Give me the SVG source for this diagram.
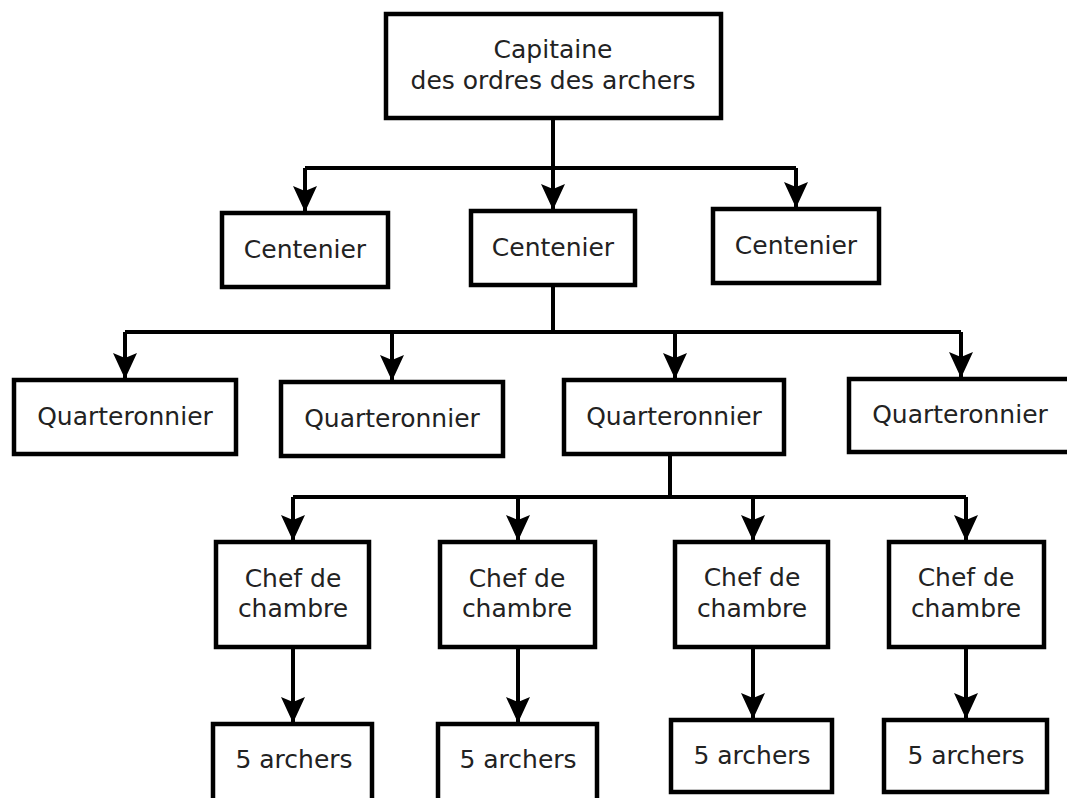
<svg xmlns="http://www.w3.org/2000/svg" width="1067" height="798" viewBox="0 0 1067 798">
<defs>
<style>
.box{fill:#fff;stroke:#000;stroke-width:4.5}
.lbl{font-family:"DejaVu Sans","Liberation Sans",sans-serif;font-size:25px;fill:#222;text-anchor:middle}
.con{fill:none;stroke:#000;stroke-width:4}
</style>
<marker id="arr" markerUnits="userSpaceOnUse" viewBox="0 0 26 24" refX="25" refY="12" markerWidth="26" markerHeight="24" orient="auto">
<path d="M0,0 L26,12 L0,24 L5,12 Z" fill="#000"/>
</marker>
</defs>
<rect width="1067" height="798" fill="#fff"/>
<g id="connectors">
<path class="con" d="M553,120 V168 M305,168 H796 M553,287 V332 M125,332 H961 M670,456 V497 M293,497 H966"/>
<path class="con" marker-end="url(#arr)" d="M305,168 V211"/>
<path class="con" marker-end="url(#arr)" d="M553,168 V209"/>
<path class="con" marker-end="url(#arr)" d="M796,168 V207"/>
<path class="con" marker-end="url(#arr)" d="M125,332 V378"/>
<path class="con" marker-end="url(#arr)" d="M392,332 V380"/>
<path class="con" marker-end="url(#arr)" d="M675,332 V378"/>
<path class="con" marker-end="url(#arr)" d="M961,332 V377"/>
<path class="con" marker-end="url(#arr)" d="M293,497 V540"/>
<path class="con" marker-end="url(#arr)" d="M518,497 V540"/>
<path class="con" marker-end="url(#arr)" d="M753,497 V540"/>
<path class="con" marker-end="url(#arr)" d="M966,497 V540"/>
<path class="con" marker-end="url(#arr)" d="M293,649 V722"/>
<path class="con" marker-end="url(#arr)" d="M518,649 V722"/>
<path class="con" marker-end="url(#arr)" d="M753,649 V718"/>
<path class="con" marker-end="url(#arr)" d="M966,649 V718"/>
</g>
<g id="capitaine"><rect class="box" x="386" y="14" width="335" height="104"/><text class="lbl" x="553" y="58">Capitaine</text><text class="lbl" x="553" y="89">des ordres des archers</text></g>
<g id="centenier1"><rect class="box" x="222" y="213" width="166" height="74"/><text class="lbl" x="305" y="258">Centenier</text></g>
<g id="centenier2"><rect class="box" x="471" y="211" width="164" height="74"/><text class="lbl" x="553" y="256">Centenier</text></g>
<g id="centenier3"><rect class="box" x="713" y="209" width="166" height="74"/><text class="lbl" x="796" y="254">Centenier</text></g>
<g id="quarteronnier1"><rect class="box" x="14" y="380" width="222" height="74"/><text class="lbl" x="125" y="425">Quarteronnier</text></g>
<g id="quarteronnier2"><rect class="box" x="281" y="382" width="222" height="74"/><text class="lbl" x="392" y="427">Quarteronnier</text></g>
<g id="quarteronnier3"><rect class="box" x="564" y="380" width="220" height="74"/><text class="lbl" x="674" y="425">Quarteronnier</text></g>
<g id="quarteronnier4"><rect class="box" x="849" y="379" width="230" height="73"/><text class="lbl" x="960" y="423">Quarteronnier</text></g>
<g id="chef1"><rect class="box" x="216" y="542" width="153" height="105"/><text class="lbl" x="293" y="587">Chef de</text><text class="lbl" x="293" y="617">chambre</text></g>
<g id="chef2"><rect class="box" x="440" y="542" width="155" height="105"/><text class="lbl" x="517" y="587">Chef de</text><text class="lbl" x="517" y="617">chambre</text></g>
<g id="chef3"><rect class="box" x="675" y="542" width="153" height="105"/><text class="lbl" x="752" y="586">Chef de</text><text class="lbl" x="752" y="617">chambre</text></g>
<g id="chef4"><rect class="box" x="889" y="542" width="155" height="105"/><text class="lbl" x="966" y="586">Chef de</text><text class="lbl" x="966" y="617">chambre</text></g>
<g id="archers1"><rect class="box" x="213" y="724" width="159" height="80"/><text class="lbl" x="294" y="768">5 archers</text></g>
<g id="archers2"><rect class="box" x="438" y="724" width="159" height="80"/><text class="lbl" x="518" y="768">5 archers</text></g>
<g id="archers3"><rect class="box" x="671" y="720" width="161" height="72"/><text class="lbl" x="752" y="764">5 archers</text></g>
<g id="archers4"><rect class="box" x="884" y="720" width="163" height="72"/><text class="lbl" x="966" y="764">5 archers</text></g>
</svg>
